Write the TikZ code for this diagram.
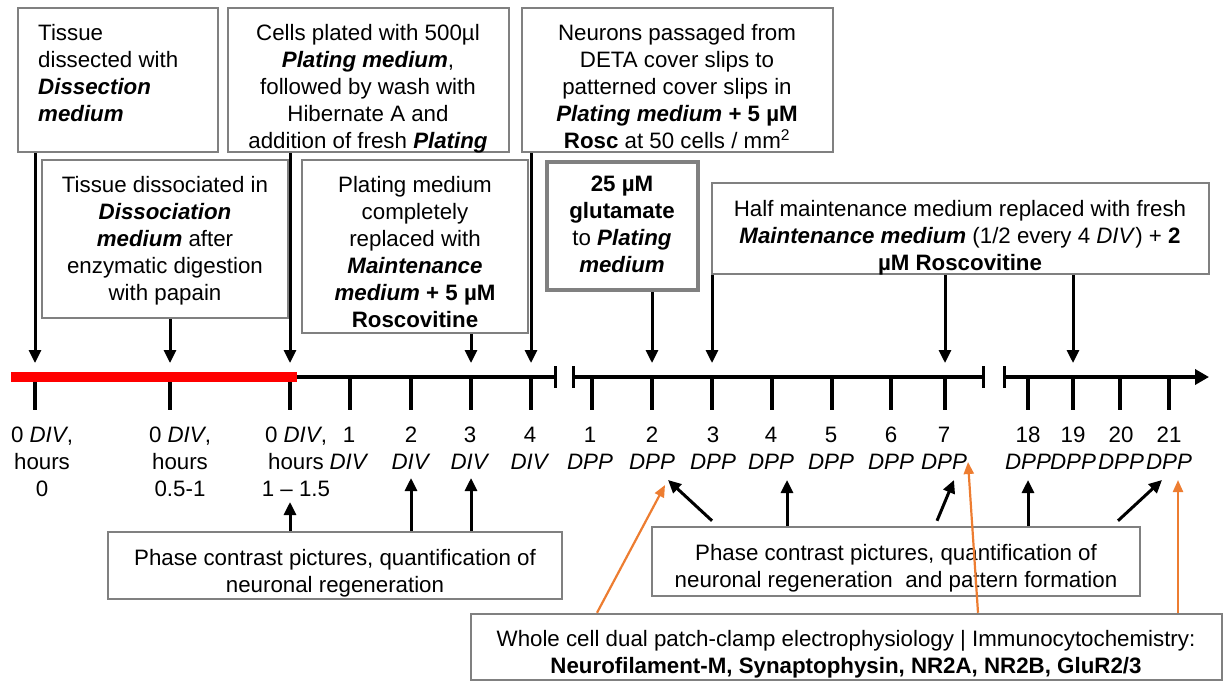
\documentclass[tikz,border=0pt]{standalone}
\usepackage{fontspec}
\setmainfont{Liberation Sans}
\usetikzlibrary{arrows.meta,calc}
\definecolor{boxgray}{RGB}{128,128,128}
\definecolor{patchorange}{RGB}{237,125,49}
\newcommand{\bfit}[1]{\textbf{\textit{#1}}}

\begin{document}
\begin{tikzpicture}[x=1pt,y=-1pt,
   every node/.style={font=\fontsize{22.3}{27}\selectfont,inner sep=0pt},
   box/.style={draw=boxgray,line width=2.5pt},
   txt/.style={anchor=north,align=center},
   lbl/.style={anchor=north,align=center},
   arr/.style={line width=3pt,-{Triangle[length=13pt,width=12pt]}},
   orarr/.style={draw=patchorange,line width=2.2pt,-{Triangle[length=12pt,width=10pt]}},
   tick/.style={line width=4pt}]
   \useasboundingbox (0,0) rectangle (1225,681);

   % boxes above the time line
   \node[box,minimum width=200pt,minimum height=144pt] (dissect) at (118,80) {};
   \node[anchor=north west,align=left] (dissect-t) at (38,24) {Tissue\\dissected with\\\bfit{Dissection}\\\bfit{medium}};
   \node[box,minimum width=281pt,minimum height=144pt] (plated) at (368.5,80) {};
   \node[txt] (plated-t) at (368,24) {Cells plated with 500µl\\\bfit{Plating medium},\\followed by wash with\\Hibernate A and\\addition of fresh \bfit{Plating}};
   \node[box,minimum width=246pt,minimum height=158pt] (dissoc) at (165,239) {};
   \node[txt] (dissoc-t) at (165,176) {Tissue dissociated in\\\bfit{Dissociation}\\\bfit{medium} after\\enzymatic digestion\\with papain};
   \node[box,minimum width=226pt,minimum height=173pt] (replace) at (415,246.5) {};
   \node[txt] (replace-t) at (415,176) {Plating medium\\completely\\replaced with\\\bfit{Maintenance}\\\bfit{medium} \textbf{+ 5 µM}\\\textbf{Roscovitine}};
   \node[box,minimum width=311pt,minimum height=144pt] (passage) at (677.5,80) {};
   \node[txt] (passage-t) at (677,24) {Neurons passaged from\\DETA cover slips to\\patterned cover slips in\\\bfit{Plating medium} \textbf{+ 5 µM}\\\textbf{Rosc} at 50 cells / mm\textsuperscript{2}};
   \node[box,line width=4.5pt,minimum width=151pt,minimum height=128pt] (gluta) at (622.5,226) {};
   \node[txt] (gluta-t) at (622,176) {\textbf{25 µM}\\\textbf{glutamate}\\to \bfit{Plating}\\\bfit{medium}};
   \node[box,minimum width=497pt,minimum height=91pt] (halfmm) at (960.5,228.5) {};
   \node[txt] (halfmm-t) at (960,200) {Half maintenance medium replaced with fresh\\\bfit{Maintenance medium} (1/2 every 4 \textit{DIV}) + \textbf{2}\\\textbf{µM Roscovitine}};

   % time line
   \foreach \x [count=\i] in {35,170,290,350,411,471,531,592,652,712,772,832,891,945,1028,1073,1120,1169}
      \draw[tick] (\x,377) -- (\x,410) coordinate (t\i);
   \draw[red,line width=10pt] (11,377) -- (297,377);
   \draw[tick] (297,377) -- (555,377) (573,377) -- (983,377);
   \draw[tick,-{Triangle[length=14pt,width=15pt]}] (1004,377) -- (1209,377);
   \foreach \x in {555,573,983,1004}
      \draw[line width=3pt] (\x,366) -- (\x,388);

   % day labels
   \node[lbl] (hrs1) at (42,427) {0 \textit{DIV},\\hours\\0};
   \node[lbl] (hrs2) at (180,427) {0 \textit{DIV},\\hours\\0.5-1};
   \node[lbl] (hrs3) at (296,427) {0 \textit{DIV},\\hours\\1 -- 1.5};
   \foreach \x/\n in {349/1,411/2,470/3,530/4}
      \node[lbl] (div\n) at (\x,427) {\n\\\textit{DIV}};
   \foreach \x/\n in {590/1,652/2,713/3,771/4,831/5,891/6,944/7,1028/18,1073/19,1121/20,1169/21}
      \node[lbl] (dpp\n) at (\x,427) {\n\\\textit{DPP}};

   % boxes below the time line
   \node[box,minimum width=454pt,minimum height=67pt] (phaseA) at (335,565.5) {};
   \node[txt] (phaseA-t) at (335,549) {Phase contrast pictures, quantification of\\neuronal regeneration};
   \node[box,minimum width=488pt,minimum height=69pt] (phaseB) at (896,561.5) {};
   \node[txt] (phaseB-t) at (896,544) {Phase contrast pictures, quantification of\\neuronal regeneration\ \ and pattern formation};
   \node[box,minimum width=751pt,minimum height=66pt] (patch) at (846.5,647) {};
   \node[txt] (patch-t) at (846,630) {Whole cell dual patch-clamp electrophysiology | Immunocytochemistry:\\\textbf{Neurofilament-M, Synaptophysin, NR2A, NR2B, GluR2/3}};

   % arrows
   \draw[arr] (dissect.south -| t1) -- ($(t1)+(0,-47)$);
   \draw[arr] (dissoc.south -| t2) -- ($(t2)+(0,-47)$);
   \draw[arr] (plated.south -| t3) -- ($(t3)+(0,-47)$);
   \draw[arr] (replace.south -| t6) -- ($(t6)+(0,-47)$);
   \draw[arr] (passage.south -| t7) -- ($(t7)+(0,-47)$);
   \draw[arr] (gluta.south -| t9) -- ($(t9)+(0,-47)$);
   \draw[arr] (halfmm.south -| t10) -- ($(t10)+(0,-47)$);
   \draw[arr] (halfmm.south -| t14) -- ($(t14)+(0,-47)$);
   \draw[arr] (halfmm.south -| t16) -- ($(t16)+(0,-47)$);

   \draw[arr] (phaseA.north -| t3) -- ($(t3)+(0,92)$);
   \draw[arr] (phaseA.north -| t5) -- ($(t5)+(0,68)$);
   \draw[arr] (phaseA.north -| t6) -- ($(t6)+(0,68)$);

   \draw[arr] ($(phaseB.north -| t10)+(0,-5)$) -- ($(t9)+(16,70)$);
   \draw[arr] ($(phaseB.north -| t11)+(15,0)$) -- ($(t11)+(15,70)$);
   \draw[arr] ($(phaseB.north -| t14)+(-8,-5)$) -- ($(t14)+(9,70)$);
   \draw[arr] (phaseB.north -| t15) -- ($(t15)+(0,70)$);
   \draw[arr] ($(phaseB.north -| t17)+(-2,-5)$) -- ($(t18)+(-7,70)$);

   \draw[orarr] ($(patch.north -| t8)+(5,0)$) -- ($(t9)+(13,75)$);
   \draw[orarr] ($(patch.north -| t14)+(33,0)$) -- ($(t14)+(23,52)$);
   \draw[orarr] ($(patch.north -| t18)+(9,0)$) -- ($(t18)+(9,70)$);
\end{tikzpicture}
\end{document}
